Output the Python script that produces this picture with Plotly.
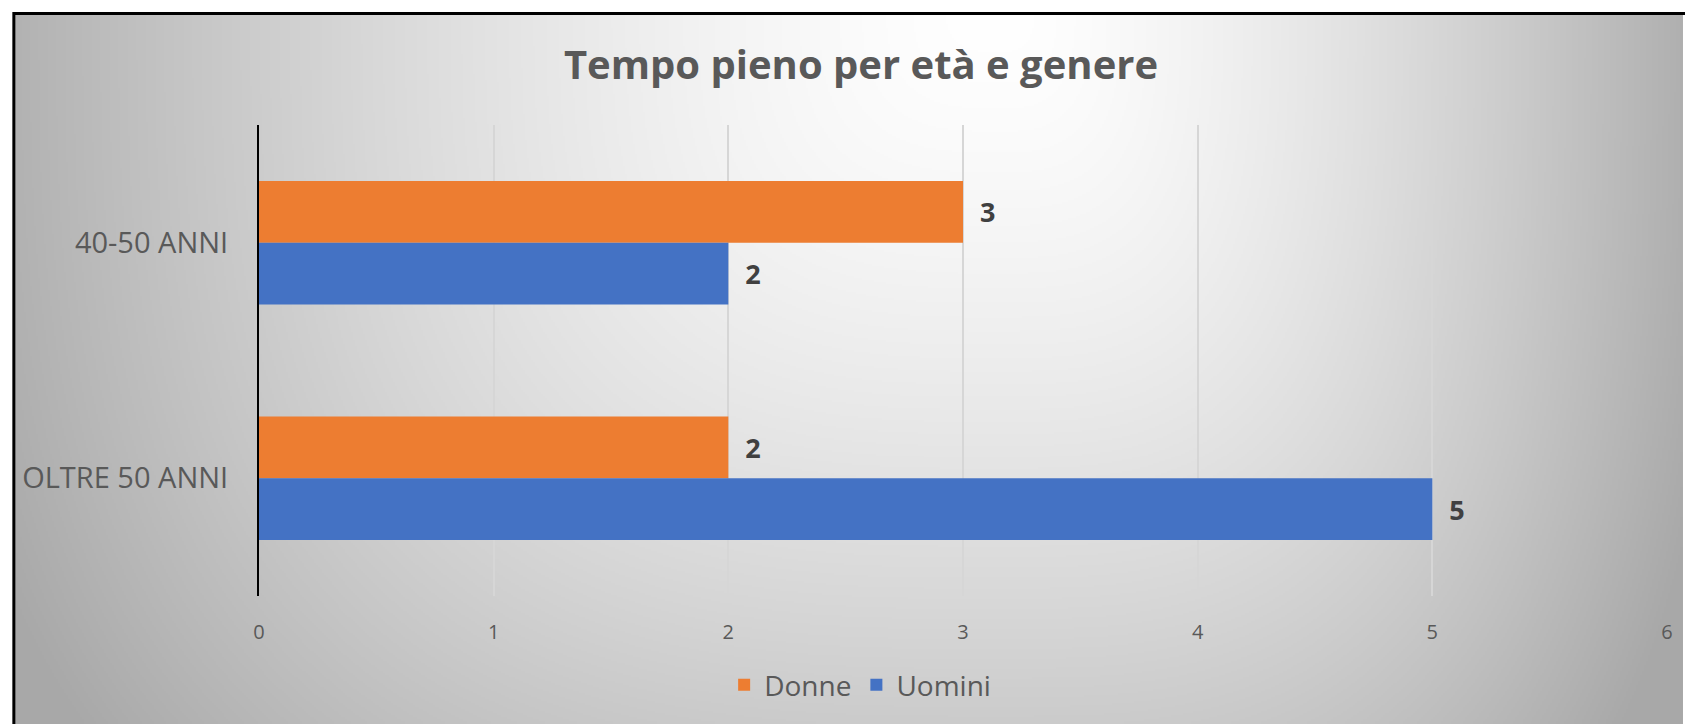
import base64, zlib, struct
import numpy as np
import plotly.graph_objects as go

# ---- data ----
categories = ["40-50 ANNI", "OLTRE 50 ANNI"]
donne = [3, 2]
uomini = [2, 5]
series_names = ["Donne", "Uomini"]
x_ticks = [0, 1, 2, 3, 4, 5, 6]
title_text = "Tempo pieno per età e genere"

# ---- canvas / plot-area geometry (pixels) ----
W, H = 1685, 724
L, R, T, B = 259, 1669, 125, 596

def px2x(px):
    return (px - L) / (R - L)

def px2y(py):
    return (B - py) / (B - T)

# ---- background gradient image (style only) ----
def make_png(arr):
    h, w = arr.shape
    raw = b"".join(b"\x00" + arr[i].tobytes() for i in range(h))
    def chunk(tag, data):
        c = struct.pack(">I", len(data)) + tag + data
        return c + struct.pack(">I", zlib.crc32(tag + data) & 0xffffffff)
    png = b"\x89PNG\r\n\x1a\n"
    png += chunk(b"IHDR", struct.pack(">IIBBBBB", w, h, 8, 0, 0, 0, 0))
    png += chunk(b"IDAT", zlib.compress(raw, 9))
    png += chunk(b"IEND", b"")
    return png

x0_img, y0_img = 13, 13
step = 2
xs = np.arange(x0_img, W + 1, step, dtype=float)
ys = np.arange(y0_img, H + 1, step, dtype=float)
X, Y = np.meshgrid(xs, ys)
dx = X - 1000.0
dy = Y - 0.0
sx = np.where(dx < 0, 1006.0, 685.0)
d = (np.abs(dx / sx) ** 3 + np.abs(dy / 960.0) ** 3) ** (1.0 / 3.0)
v = 255.0 - 79.0 * d ** 1.5
v = np.clip(v, 168, 255).astype(np.uint8)
bg_uri = "data:image/png;base64," + base64.b64encode(make_png(v)).decode()

FONT = "Open Sans"
GREY = "#595959"

fig = go.Figure()
fig.add_trace(go.Bar(
    y=categories, x=donne, name=series_names[0], orientation="h",
    marker=dict(color="#ED7D31", line=dict(width=0)),
    texttemplate="\u00a0\u00a0%{x}", textposition="outside",
    textfont=dict(family=FONT, size=27, color="#404040", weight="bold"),
    constraintext="none", cliponaxis=False,
))
fig.add_trace(go.Bar(
    y=categories, x=uomini, name=series_names[1], orientation="h",
    marker=dict(color="#4472C4", line=dict(width=0)),
    texttemplate="\u00a0\u00a0%{x}", textposition="outside",
    textfont=dict(family=FONT, size=27, color="#404040", weight="bold"),
    constraintext="none", cliponaxis=False,
))

fig.update_layout(
    width=W, height=H,
    margin=dict(l=L, r=W - R, t=T, b=H - B, pad=0),
    paper_bgcolor="white",
    plot_bgcolor="rgba(0,0,0,0)",
    barmode="group",
    bargap=0.475,
    bargroupgap=0,
    title=dict(text=title_text, x=861 / W, xanchor="center",
               y=1 - 65 / H, yanchor="middle", yref="container",
               font=dict(family=FONT, size=40, color=GREY, weight="bold")),
    xaxis=dict(range=[0, 6], tickvals=x_ticks, showgrid=True,
               gridcolor="#d6d6d6", gridwidth=1.5, zeroline=False,
               showline=False, ticks="", ticklabelstandoff=22,
               tickfont=dict(family=FONT, size=20, color=GREY)),
    yaxis=dict(autorange="reversed", showline=True, linecolor="black",
               linewidth=2, showgrid=False, ticks="", ticklabelstandoff=23,
               tickfont=dict(family=FONT, size=29, color=GREY)),
    legend=dict(orientation="h", x=px2x(861), xanchor="center",
                y=px2y(685), yanchor="middle", traceorder="normal",
                font=dict(family=FONT, size=28, color=GREY),
                bgcolor="rgba(0,0,0,0)"),
    images=[dict(source=bg_uri, xref="paper", yref="paper",
                 x=px2x(x0_img), y=px2y(y0_img),
                 sizex=(W - x0_img) / (R - L), sizey=(H - y0_img) / (B - T),
                 xanchor="left", yanchor="top", sizing="stretch",
                 layer="below")],
    shapes=[dict(type="rect", xref="paper", yref="paper",
                 x0=px2x(13.5), y0=px2y(H + 20), x1=px2x(W + 20), y1=px2y(13.5),
                 line=dict(color="black", width=3), fillcolor="rgba(0,0,0,0)",
                 layer="above")],
    showlegend=True,
)

fig.write_html("out.html", config={"displayModeBar": False},
               post_script="document.body.style.margin='0';")
